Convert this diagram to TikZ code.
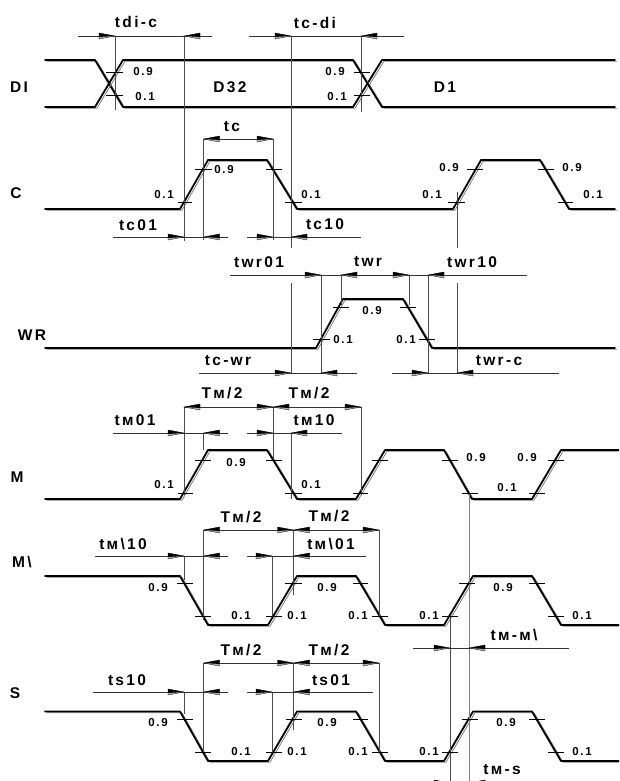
\documentclass[tikz,border=0pt]{standalone}
\usepackage{fontspec}
\setmainfont{Liberation Sans}[LetterSpace=15]

\tikzset{
    sig/.style={black, line width=1.8pt, line join=round, line cap=round},
    sigshade/.style={gray, line width=0.8pt, line join=round, line cap=round, shift={(2,1.2)}},
    extline/.style={black!70, line width=0.6pt},
    dimline/.style={black!80, line width=0.6pt},
    tickline/.style={black, line width=0.6pt},
    big/.style={font=\bfseries\fontsize{15.5}{15.5}\selectfont, inner sep=0pt},
    small/.style={font=\bfseries\fontsize{11.5}{11.5}\selectfont, inner sep=0pt},
    tipR/.pic={
        \filldraw[fill=gray!60, line width=0.3pt] (0,0) -- (-16,-3) -- (-16,3) -- cycle;
        \fill (0,0) -- (-16,-3) -- (-16,1) -- cycle;
    },
    tipL/.pic={
        \filldraw[fill=gray!60, line width=0.3pt] (0,0) -- (16,-3) -- (16,3) -- cycle;
        \fill (0,0) -- (16,-3) -- (16,1) -- cycle;
    }
}
\newcommand{\sigwave}[1]{\draw[sigshade] #1; \draw[sig] #1;}

\begin{document}
\begin{tikzpicture}[x=1pt, y=-1pt]
    \path[clip] (0,0) rectangle (619,781);

    % signals
    \sigwave{(45,60) -- (95,60) -- (123,107) -- (353,107) -- (382,60) -- (615,60)}
    \sigwave{(45,107) -- (95,107) -- (123,60) -- (353,60) -- (382,107) -- (615,107)}
    \sigwave{(45,209) -- (180,209) -- (208,160) -- (267,160) -- (297,209) -- (453,209) -- (481,160) -- (540,160) -- (569,209) -- (615,209)}
    \sigwave{(45,348) -- (316,348) -- (343,299) -- (403,299) -- (432,348) -- (615,348)}
    \sigwave{(45,499) -- (180,499) -- (208,450) -- (267,450) -- (297,499) -- (356,499) -- (385,450) -- (444,450) -- (472,499) -- (532,499) -- (561,450) -- (619,450)}
    \sigwave{(45,576) -- (180,576) -- (208,625) -- (268,625) -- (297,576) -- (356,576) -- (385,625) -- (444,625) -- (473,576) -- (532,576) -- (561,625) -- (619,625)}
    \sigwave{(45,711.5) -- (180,711.5) -- (208,761) -- (268,761) -- (297,711.5) -- (356,711.5) -- (385,761) -- (444,761) -- (473,711.5) -- (532,711.5) -- (561,761) -- (619,761)}

    % extension lines
    \foreach \x/\a/\b in {115/36/110, 184/36/241, 291/36/248, 361/36/112, 203.5/139/240, 273/139/240, 457/192/248,
        291/283/373, 321/275/373, 341/275/305, 409/275/305, 428/275/373, 457/283/373,
        184/407/495, 203.5/433/450, 273/407/458, 291/433/499, 361/407/495,
        184/556/580, 203.5/530/620, 272/556/617, 293.5/530/595, 379/530/617,
        184/692/714, 203.5/663/753, 272/692/753, 293.5/663/730, 379/663/753, 450/617/781}
        \draw[extline] (\x,\a) -- (\x,\b);
    \draw[gray, line width=1pt] (469,493) -- (469,781);

    % dimension lines
    \foreach \a/\b/\y in {78/212/36, 249/404/36, 203.5/273/139, 113/228/237, 247/361/237,
        230/527/275, 199/357/373, 392/559/373,
        184/361/407, 113/228/433, 247/342/433,
        203.5/379/530, 95/228/556, 247/366/556, 413/569/648,
        203.5/379/663, 93/228/692, 247/373/692, 413/569/783}
        \draw[dimline] (\a,\y) -- (\b,\y);

    % arrow tips
    \foreach \x/\y in {115/36, 291/36, 273/139, 184/237, 273/237, 321/275, 409/275, 291/373, 428/373,
        273/407, 361/407, 184/433, 273/433, 293.5/530, 379/530, 184/556, 272/556, 450/648,
        293.5/663, 379/663, 184/692, 272/692, 450/783}
        \pic at (\x,\y) {tipR};
    \foreach \x/\y in {184/36, 361/36, 203.5/139, 203.5/237, 291/237, 341/275, 428/275, 321/373, 457/373,
        184/407, 273/407, 203.5/433, 291/433, 203.5/530, 293.5/530, 203.5/556, 293.5/556, 469/648,
        203.5/663, 293.5/663, 203.5/692, 293.5/692, 469/783}
        \pic at (\x,\y) {tipL};

    % level ticks
    \foreach \a/\b/\y in {106/123/72, 106/123/95.5, 354/370/72, 354/370/95.5,
        178/192/202, 195/212/169, 266/282/169, 285/302/202, 448/465/202, 467/483/169, 538/554/169, 558/573/202,
        313/330/339, 333/349/307, 400/416/307, 419/435/339,
        178/193/493, 195/211/460, 266/282/460, 285/302/493, 353/368/493, 372/388/460, 442/458/460, 462/478/493, 529/545/493, 548/564/460,
        177/193/583.5, 195/211/616.5, 266/282/616.5, 285/302/583.5, 353/368/583.5, 372/388/616.5, 442/458/616.5, 459/475/583.5, 529/545/583.5, 548/564/616.5,
        177/193/719.5, 195/211/752.5, 266/282/752.5, 286/302/719.5, 353/368/719.5, 372/388/752.5, 442/458/752.5, 462/478/719.5, 529/545/719.5, 548/564/752.5}
        \draw[tickline] (\a,\y) -- (\b,\y);

    % level labels
    \foreach \x/\y [count=\i] in {143/72, 335/72, 224/170, 449/168, 572/168, 372/311,
        236/463, 476/458, 527/458, 158/588, 327/588, 503/588, 158/723, 327/723, 506/723}
        \node[small] (nine\i) at (\x,\y) {0.9};
    \foreach \x/\y [count=\i] in {145/97, 337/97, 164/195, 311/195, 432/195, 593/195, 343/340, 406/340,
        164/485, 311/485, 507/488, 241/616, 297/616, 358/616, 429/616, 582/616,
        241/752, 297/752, 358/752, 429/752, 582/752}
        \node[small] (one\i) at (\x,\y) {0.1};

    % signal names
    \node[big] (di) at (19,87) {DI};
    \node[big] (cc) at (16,193) {C};
    \node[big] (wr) at (32,335) {WR};
    \node[big] (mm) at (17,477) {M};
    \node[big] (mn) at (22,562) {M\textbackslash};
    \node[big] (ss) at (15,693) {S};
    \node[big] (d32) at (230,87) {D32};
    \node[big] (d1) at (445,87) {D1};

    % times
    \node[big] (tdic) at (136,22) {tdi-c};
    \node[big] (tcdi) at (315,23) {tc-di};
    \node[big] (tc) at (232,127) {tc};
    \node[big] (tc01) at (138,225) {tc01};
    \node[big] (tc10) at (325,224) {tc10};
    \node[big] (twr01) at (259,262) {twr01};
    \node[big] (twr) at (368,262) {twr};
    \node[big] (twr10) at (472,262) {twr10};
    \node[big] (tcwr) at (228,361) {tc-wr};
    \node[big] (twrc) at (499,361) {twr-c};
    \node[big] (tma) at (222,393) {Tм/2};
    \node[big] (tmb) at (309,393) {Tм/2};
    \node[big] (tm01) at (135,420) {tм01};
    \node[big] (tm10) at (314,420) {tм10};
    \node[big] (tmc) at (241,517) {Tм/2};
    \node[big] (tmd) at (329,516) {Tм/2};
    \node[big] (tmn10) at (123,544) {tм\textbackslash 10};
    \node[big] (tmn01) at (331,544) {tм\textbackslash 01};
    \node[big] (tmm) at (514,635) {tм-м\textbackslash};
    \node[big] (tme) at (241,650) {Tм/2};
    \node[big] (tmf) at (329,650) {Tм/2};
    \node[big] (ts10) at (127,680) {ts10};
    \node[big] (ts01) at (331,680) {ts01};
    \node[big] (tms) at (502,770) {tм-s};
\end{tikzpicture}
\end{document}
